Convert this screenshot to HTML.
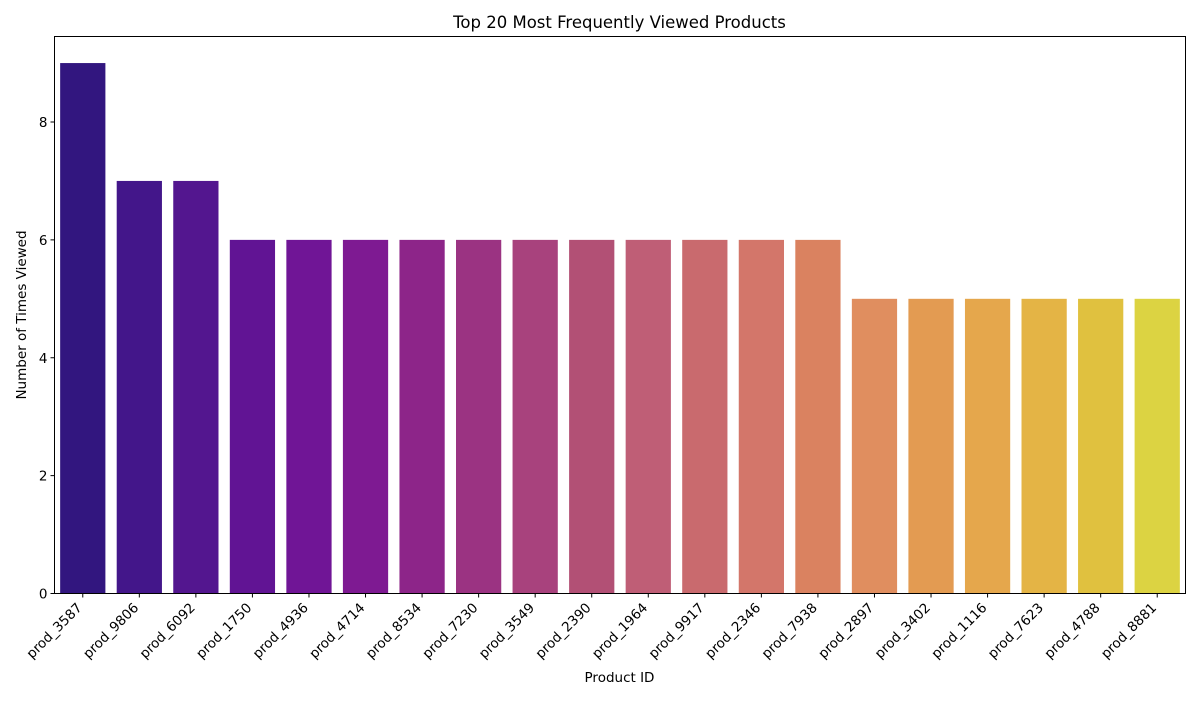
<!DOCTYPE html>
<html><head><meta charset="utf-8"><style>
body{margin:0;background:#fff;font-family:"DejaVu Sans",sans-serif}
</style></head><body>
<svg id="chart" width="1200" height="700" xmlns="http://www.w3.org/2000/svg" font-family="DejaVu Sans, sans-serif">
<text x="619.5" y="28" font-size="16.5" text-anchor="middle">Top 20 Most Frequently Viewed Products</text>
<g id="bars"></g><g id="axes"></g>
<rect x="54.5" y="36.5" width="1131" height="557" fill="none" stroke="#000" stroke-width="1"/>
<text x="619.5" y="682" font-size="13.5" text-anchor="middle">Product ID</text>
<text transform="translate(26,315) rotate(-90)" font-size="13.5" text-anchor="middle">Number of Times Viewed</text>
</svg>
<script>
const categories=["prod_3587","prod_9806","prod_6092","prod_1750","prod_4936","prod_4714","prod_8534","prod_7230","prod_3549","prod_2390","prod_1964","prod_9917","prod_2346","prod_7938","prod_2897","prod_3402","prod_1116","prod_7623","prod_4788","prod_8881"];
const views=[9,7,7,6,6,6,6,6,6,6,6,6,6,6,5,5,5,5,5,5];
const yTicks=[0,2,4,6,8];
const colors=["#32167f","#43168a","#53168f","#611494","#701596","#7e1a92","#8d2589","#9b3382","#a8427d","#b25075","#bf5e76","#c96a6e","#d3766a","#da8260","#e08e5f","#e39b52","#e5a74c","#e4b445","#e0c13f","#dcd342"];
const NS="http://www.w3.org/2000/svg";
const L=54.5,R=1185.5,T=36.5,B=593.5;
const step=(R-L)/categories.length;
const x=i=>L+step*(i+0.5);
const y=v=>B-v*(B-122)/8;
const bars=document.getElementById('bars'),axes=document.getElementById('axes');
function mk(t,a,p){const e=document.createElementNS(NS,t);for(const k in a)e.setAttribute(k,a[k]);p.appendChild(e);return e;}
categories.forEach((c,i)=>{
 const r=mk('rect',{x:x(i)-step*0.4,y:y(views[i]),width:step*0.8,height:B-y(views[i]),fill:colors[i]},bars);
 
 
 const t=mk('line',{x1:x(i),x2:x(i),y1:B,y2:B+4,stroke:'#000'},axes);
 
 
 const l=mk('text',{transform:`translate(${x(i)},${B+15}) rotate(-45)`,'font-size':13.5,'text-anchor':'end'},axes);
 l.textContent=c;
 
 
});
yTicks.forEach(v=>{
 const t=mk('line',{x1:L-4,x2:L,y1:y(v),y2:y(v),stroke:'#000'},axes);
 
 
 const l=mk('text',{x:L-7,y:y(v)+5,'font-size':13.5,'text-anchor':'end'},axes);
 l.textContent=v;
 
 
});
</script>
</body></html>
